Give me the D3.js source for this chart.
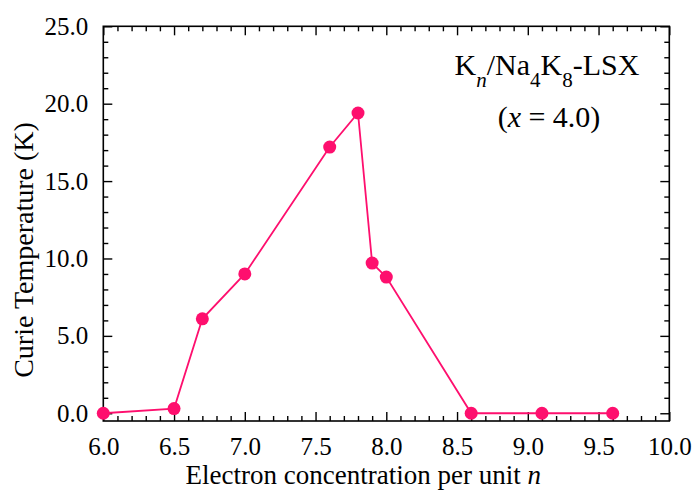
<!DOCTYPE html>
<html>
<head>
<meta charset="utf-8">
<script src="https://cdn.jsdelivr.net/npm/d3@7/dist/d3.min.js"></script>
<style>
  html, body { margin: 0; padding: 0; background: #fff; }
  svg { display: block; font-family: "Liberation Serif", "Times New Roman", serif; }
</style>
</head>
<body>
<svg id="chart" width="696" height="492"></svg>
<script>
// Electron concentration per unit n vs. Curie temperature
const electronN = [6.0, 6.5, 6.7, 7.0, 7.6, 7.8, 7.9, 8.0, 8.6, 9.1, 9.6];
const curieT    = [0.0, 0.3, 6.1, 9.0, 17.2, 19.4, 9.7, 8.8, 0.0, 0.0, 0.0];

const xTicks = [6.0, 6.5, 7.0, 7.5, 8.0, 8.5, 9.0, 9.5, 10.0];
const yTicks = [0, 5, 10, 15, 20, 25];

const plotLeft = 103.3, plotRight = 669.3, plotTop = 26.3, plotBottom = 421;
const color = "#fe0f6e";

const svg = d3.select("#chart");

const x = d3.scaleLinear().domain([6.0, 10.0]).range([plotLeft, plotRight]);
const y = d3.scaleLinear().domain([-0.5, 25]).range([plotBottom, plotTop]);

const xMinor = d3.range(60, 101).filter(v => v % 5 !== 0).map(v => v / 10);
const yMinor = d3.range(0, 26).filter(v => v % 5 !== 0);

const majorLen = 9, minorLen = 5;
const fmt = d3.format(".1f");

// Bottom axis (ticks point inward)
const gB = svg.append("g").attr("transform", `translate(0,${plotBottom})`);
gB.call(d3.axisBottom(x).tickValues(xTicks).tickFormat(fmt).tickSizeInner(-majorLen).tickSizeOuter(0).tickPadding(16));
gB.append("g").call(d3.axisBottom(x).tickValues(xMinor).tickFormat("").tickSizeInner(-minorLen).tickSizeOuter(0));

// Top axis
const gT = svg.append("g").attr("transform", `translate(0,${plotTop})`);
gT.call(d3.axisTop(x).tickValues(xTicks).tickFormat("").tickSizeInner(-majorLen).tickSizeOuter(0));
gT.append("g").call(d3.axisTop(x).tickValues(xMinor).tickFormat("").tickSizeInner(-minorLen).tickSizeOuter(0));

// Left axis
const gL = svg.append("g").attr("transform", `translate(${plotLeft},0)`);
gL.call(d3.axisLeft(y).tickValues(yTicks).tickFormat(fmt).tickSizeInner(-majorLen).tickSizeOuter(0).tickPadding(15));
gL.append("g").call(d3.axisLeft(y).tickValues(yMinor).tickFormat("").tickSizeInner(-minorLen).tickSizeOuter(0));

// Right axis
const gR = svg.append("g").attr("transform", `translate(${plotRight},0)`);
gR.call(d3.axisRight(y).tickValues(yTicks).tickFormat("").tickSizeInner(-majorLen).tickSizeOuter(0));
gR.append("g").call(d3.axisRight(y).tickValues(yMinor).tickFormat("").tickSizeInner(-minorLen).tickSizeOuter(0));

svg.selectAll(".domain").remove();
svg.selectAll(".tick line").attr("stroke", "#000").attr("stroke-width", 1.4);
svg.selectAll(".tick text")
  .attr("fill", "#000")
  .style("font-family", '"Liberation Serif", "Times New Roman", serif')
  .style("font-size", "25px");

// Frame
svg.append("rect")
  .attr("x", plotLeft).attr("y", plotTop)
  .attr("width", plotRight - plotLeft).attr("height", plotBottom - plotTop)
  .attr("fill", "none").attr("stroke", "#000").attr("stroke-width", 1.6);

// Data line and markers
const pts = electronN.map((n, i) => [n, curieT[i]]);
svg.append("path")
  .datum(pts)
  .attr("fill", "none")
  .attr("stroke", color)
  .attr("stroke-width", 1.8)
  .attr("d", d3.line().x(d => x(d[0])).y(d => y(d[1])));

svg.append("g").selectAll("circle")
  .data(pts)
  .join("circle")
  .attr("cx", d => x(d[0]))
  .attr("cy", d => y(d[1]))
  .attr("r", 6.5)
  .attr("fill", color);

// Axis titles
const xt = svg.append("text")
  .attr("x", (plotLeft + plotRight) / 2 - 23).attr("y", 484)
  .attr("text-anchor", "middle")
  .style("font-size", "27px");
xt.append("tspan").text("Electron concentration per unit ");
xt.append("tspan").attr("font-style", "italic").text("n");

svg.append("text")
  .attr("transform", `translate(33,250) rotate(-90)`)
  .attr("text-anchor", "middle")
  .style("font-size", "28px")
  .text("Curie Temperature (K)");

// Sample label
const l1 = svg.append("text")
  .attr("x", 547).attr("y", 75)
  .attr("text-anchor", "middle")
  .style("font-size", "30px");
l1.append("tspan").text("K");
l1.append("tspan").attr("font-style", "italic").attr("font-size", "21px").attr("dy", 12).text("n");
l1.append("tspan").attr("dy", -12).text("/Na");
l1.append("tspan").attr("font-size", "21px").attr("dy", 12).text("4");
l1.append("tspan").attr("dy", -12).text("K");
l1.append("tspan").attr("font-size", "21px").attr("dy", 12).text("8");
l1.append("tspan").attr("dy", -12).text("-LSX");

const l2 = svg.append("text")
  .attr("x", 549).attr("y", 127)
  .attr("text-anchor", "middle")
  .style("font-size", "30px");
l2.append("tspan").text("(");
l2.append("tspan").attr("font-style", "italic").text("x");
l2.append("tspan").text(" = 4.0)");
</script>
</body>
</html>
